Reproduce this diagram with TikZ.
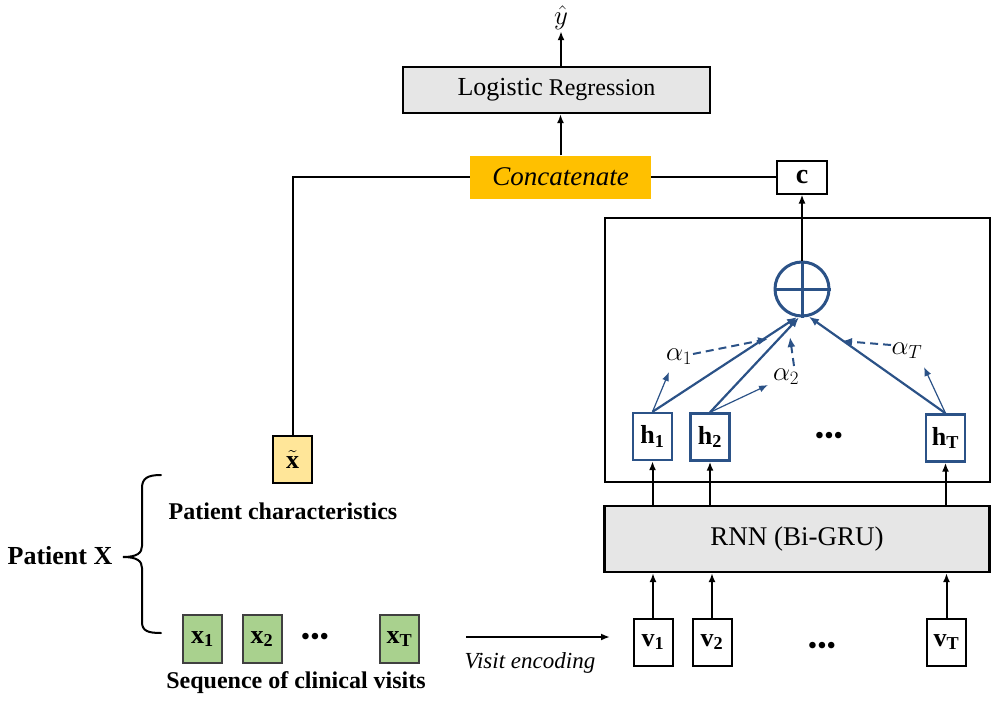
\RequirePackage{fix-cm}
\documentclass[tikz,border=0pt]{standalone}
\usepackage{fontspec}
\setmainfont{Liberation Serif}
\usetikzlibrary{arrows.meta}
\definecolor{attblue}{HTML}{2B5287}
\definecolor{boxgray}{HTML}{E6E6E6}
\definecolor{concatorange}{HTML}{FFC000}
\definecolor{featyellow}{HTML}{FFE699}
\definecolor{visitgreen}{HTML}{A9D18E}
\newcommand{\vdotsrow}{\textbf{\textbullet\kern1pt\textbullet\kern1pt\textbullet}}
\tikzset{
  fs/.style={font=\fontsize{#1}{#1}\selectfont},
  graybox/.style={draw=black, line width=2.2pt, fill=boxgray, inner sep=0pt},
  vecbox/.style={draw=black, line width=2pt, fill=white, inner sep=0pt,
    minimum width=39pt, minimum height=47pt, fs=26},
  hbox/.style={draw=attblue, line width=2.4pt, fill=white, inner sep=0pt,
    minimum width=39pt, minimum height=47pt, fs=26},
  xbox/.style={draw=black!75, line width=2pt, fill=visitgreen, inner sep=0pt,
    minimum width=39pt, minimum height=48pt, fs=26},
  conn/.style={line width=2pt, draw=black},
  arr/.style={conn, -{Latex[length=9pt,width=7pt]}},
  battr/.style={line width=2.2pt, draw=attblue, -{Latex[length=10pt,width=8pt]}},
  bthin/.style={line width=1.2pt, draw=attblue, -{Latex[length=9pt,width=7pt]}},
  bdash/.style={line width=2pt, draw=attblue, dash pattern=on 8pt off 5pt,
    -{Latex[length=10pt,width=8pt]}},
  alab/.style={inner sep=1pt, fs=27},
  dotrow/.style={fs=24, inner sep=0pt},
}
\begin{document}
\begin{tikzpicture}[x=1pt, y=-1pt]
\useasboundingbox (0,0) rectangle (993,701);

% output and top layers
\node[fs=27, inner sep=1pt] (yhat) at (561,18) {$\hat{y}$};
\node[graybox, minimum width=307pt, minimum height=46pt, fs=24] (lr) at (556.5,90)
  {{\fontsize{26}{26}\selectfont Logistic} Regression};
\node[fill=concatorange, inner sep=0pt, minimum width=181pt, minimum height=43pt, fs=27]
  (concat) at (560.5,177) {\textit{Concatenate}};
\node[draw=black, line width=2pt, fill=white, inner sep=0pt, minimum width=50pt,
  minimum height=33pt, fs=28] (c) at (802,177) {$\mathbf{c}$};

% attention block
\node[draw=black, line width=2pt, minimum width=385pt, minimum height=264pt, inner sep=0pt]
  (att) at (797,350) {};
\node[circle, draw=attblue, line width=3pt, minimum size=54pt, inner sep=0pt] (sum) at (802,289) {};
\draw[attblue, line width=3pt] (sum.north) -- (sum.south) (sum.west) -- (sum.east);

\node[hbox] (h1) at (652.5,436.5) {$\mathbf{h}_{\mathbf{1}}$};
\node[hbox] (h2) at (710,437) {$\mathbf{h}_{\mathbf{2}}$};
\node[hbox] (hT) at (945.5,438) {$\mathbf{h}_{\mathbf{T}}$};
\node[dotrow] (hdots) at (829,438) {\vdotsrow};

\node[alab] (a1) at (679,357) {$\alpha_1$};
\node[alab] (a2) at (786,377) {$\alpha_2$};
\node[alab] (aT) at (907,351) {$\alpha_T$};
\coordinate (a1tip) at (669,372);
\coordinate (a2tip) at (768,385);
\coordinate (aTtip) at (924,367);
\coordinate (d1tip) at (768,339);
\coordinate (d2tip) at (790,337);
\coordinate (dTtip) at (842,341);
\coordinate (d1src) at (693,354);
\coordinate (d2src) at (794,366);
\coordinate (dTsrc) at (891,345);

\draw[battr] (h1.north) -- (sum.-100);
\draw[battr] (h2.north) -- (sum.-96);
\draw[battr] (hT.north) -- (sum.-76);
\draw[bthin] (h1.north) -- (a1tip);
\draw[bthin] (h2.north) -- (a2tip);
\draw[bthin] (hT.north) -- (aTtip);
\draw[bdash] (d1src) -- (d1tip);
\draw[bdash] (d2src) -- (d2tip);
\draw[bdash] (dTsrc) -- (dTtip);

% recurrent encoder
\node[graybox, minimum width=385pt, minimum height=66pt, fs=27] (rnn) at (797,539) {RNN (Bi-GRU)};
\node[vecbox] (v1) at (653,642) {$\mathbf{v}_{\mathbf{1}}$};
\node[vecbox] (v2) at (712,642) {$\mathbf{v}_{\mathbf{2}}$};
\node[vecbox] (vT) at (946.5,642) {$\mathbf{v}_{\mathbf{T}}$};
\node[dotrow] (vdots) at (822,648) {\vdotsrow};

% patient inputs
\node[vecbox, draw=black, fill=featyellow] (xt) at (292.5,459.5) {$\tilde{\mathbf{x}}$};
\node[xbox] (x1) at (202.5,639) {$\mathbf{x}_{\mathbf{1}}$};
\node[xbox] (x2) at (262,639) {$\mathbf{x}_{\mathbf{2}}$};
\node[xbox] (xT) at (399.5,639) {$\mathbf{x}_{\mathbf{T}}$};
\node[dotrow] (xdots) at (315,639) {\vdotsrow};
\node[fs=24, inner sep=0pt] (pchar) at (283,511) {\textbf{Patient characteristics}};
\node[fs=24, inner sep=0pt] (pseq) at (296,683) {\textbf{Sequence of clinical visits}};
\node[fs=26, inner sep=0pt] (px) at (60,556) {\textbf{Patient X}};

% brace grouping the two inputs
\draw[line width=2pt, line cap=round]
  (161,475) .. controls (148,475) and (142,478) .. (142,488)
  -- (142,546) .. controls (142,553) and (137,557) .. (123,557)
  .. controls (137,557) and (142,561) .. (142,568)
  -- (142,622) .. controls (142,631) and (148,633) .. (161,633);

% visit encoding
\coordinate (ves) at (466,637);
\coordinate (vee) at (610,637);
\draw[arr, line width=1.8pt] (ves) -- (vee);
\node[fs=23, inner sep=0pt] (velab) at (530,663) {\textit{Visit encoding}};

% connectors
\draw[arr] (lr.north -| yhat) -- (yhat.south);
\draw[arr] (concat.north) -- (concat.north |- lr.south);
\draw[conn] (concat.west) -| (xt.north);
\draw[conn] (concat.east) -- (c.west);
\draw[arr] (sum.north) -- (c.south);
\draw[arr] (rnn.north -| h1) -- (h1.south);
\draw[arr] (rnn.north -| h2) -- (h2.south);
\draw[arr] (rnn.north -| hT) -- (hT.south);
\draw[arr] (v1.north) -- (v1.north |- rnn.south);
\draw[arr] (v2.north) -- (v2.north |- rnn.south);
\draw[arr] (vT.north) -- (vT.north |- rnn.south);
\end{tikzpicture}
\end{document}
